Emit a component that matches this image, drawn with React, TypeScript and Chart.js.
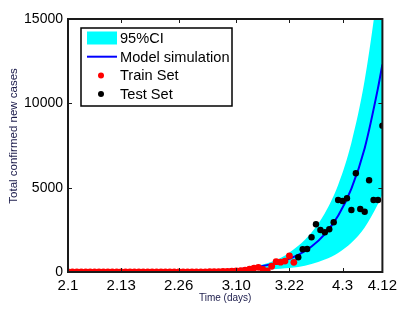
import React, { useEffect, useRef } from 'react';
import { Chart, registerables } from 'chart.js';
Chart.register(...registerables);

// x axis: days since 2.1 (Feb 1)
const xTickDays = [0, 12, 25, 38, 50, 62, 71];
const xTickLabels = ['2.1', '2.13', '2.26', '3.10', '3.22', '4.3', '4.12'];
const yTicks = [0, 5000, 10000, 15000];

const trainStartDay = 0;
const trainValues = [
  0, 0, 0, 0, 0, 0, 0, 0, 0, 0,
  0, 0, 0, 0, 0, 0, 0, 0, 0, 0,
  0, 0, 2, 2, 3, 4, 5, 6, 8, 9,
  10, 12, 15, 20, 25, 30, 40, 50, 65, 85,
  110, 170, 230, 280, 160, 60, 340, 610, 580, 650, 950, 575,
];

const testStartDay = 52;
const testValues = [
  872, 1346, 1364, 2058, 2829, 2490, 2354, 2532, 2947, 4270,
  4210, 4370, 3677, 5853, 3736, 3576, 5438, 4270, 4270, 8676,
];

const modelDays = [0, 10, 20, 30, 35, 40, 44, 48, 52, 55, 58, 61, 64, 67, 70, 71];
const modelValues = [1, 4, 15, 56, 109, 210, 355, 600, 1016, 1511, 2243, 3332, 4946, 7344, 10900, 12300];

const ciDays = [0, 30, 35, 40, 44, 48, 52, 55, 58, 61, 64, 67, 70, 71];
const ciUpper = [1, 57, 118, 245, 440, 830, 1550, 2340, 3480, 5160, 7670, 11380, 16900, 19300];
const ciLower = [1, 55, 95, 130, 150, 200, 290, 470, 740, 1130, 1730, 2640, 4030, 4600];

const FONT = "'Liberation Sans', Arial, Helvetica, sans-serif";
const TITLE_COLOR = '#1a1a4a';

const framePlugin = {
  id: 'frameTicks',
  afterDatasetsDraw(chart: any) {
    const { ctx, chartArea, scales } = chart;
    const { left, right, top, bottom } = chartArea;
    ctx.save();
    ctx.strokeStyle = '#1a1a1a';
    ctx.lineWidth = 1;
    const tl = 4;
    ctx.beginPath();
    scales.x.ticks.forEach((t: any) => {
      const px = Math.round(scales.x.getPixelForValue(t.value)) + 0.5;
      ctx.moveTo(px, bottom); ctx.lineTo(px, bottom - tl);
      ctx.moveTo(px, top); ctx.lineTo(px, top + tl);
    });
    scales.y.ticks.forEach((t: any) => {
      const py = Math.round(scales.y.getPixelForValue(t.value)) + 0.5;
      ctx.moveTo(left, py); ctx.lineTo(left + tl, py);
      ctx.moveTo(right, py); ctx.lineTo(right - tl, py);
    });
    ctx.stroke();
    ctx.lineWidth = 2;
    ctx.strokeRect(left, top, right - left, bottom - top);
    ctx.restore();
  },
};

const legendPlugin = {
  id: 'boxLegend',
  afterDraw(chart: any) {
    const { ctx, chartArea } = chart;
    const x0 = chartArea.left + 13;
    const y0 = chartArea.top + 9;
    const w = 151;
    const h = 78;
    const items = chart.data.datasets.filter((d: any) => d.label);
    ctx.save();
    ctx.fillStyle = '#ffffff';
    ctx.fillRect(x0, y0, w, h);
    ctx.lineWidth = 1.5;
    ctx.strokeStyle = '#000000';
    ctx.strokeRect(x0, y0, w, h);
    ctx.font = `14.6px ${FONT}`;
    ctx.textBaseline = 'middle';
    ctx.textAlign = 'left';
    items.forEach((d: any, i: number) => {
      const cy = y0 + 10 + i * 18.7;
      if (d.fill) {
        ctx.fillStyle = d.backgroundColor;
        ctx.fillRect(x0 + 6, cy - 6.5, 30, 13);
      } else if (d.showLine !== false) {
        ctx.strokeStyle = d.borderColor;
        ctx.lineWidth = 2;
        ctx.beginPath();
        ctx.moveTo(x0 + 6, cy);
        ctx.lineTo(x0 + 36, cy);
        ctx.stroke();
      } else {
        ctx.fillStyle = d.pointBackgroundColor;
        ctx.beginPath();
        ctx.arc(x0 + 20, cy, 3, 0, Math.PI * 2);
        ctx.fill();
      }
      ctx.fillStyle = '#000000';
      ctx.fillText(d.label, x0 + 39, cy + 1);
    });
    ctx.restore();
  },
};

export default function App() {
  const ref = useRef<HTMLCanvasElement | null>(null);
  useEffect(() => {
    if (!ref.current) return;
    const upper = ciDays.map((d, i) => ({ x: d, y: ciUpper[i] }));
    const lower = ciDays.map((d, i) => ({ x: d, y: ciLower[i] }));
    const model = modelDays.map((d, i) => ({ x: d, y: modelValues[i] }));
    const train = trainValues.map((v, i) => ({ x: trainStartDay + i, y: v }));
    const test = testValues.map((v, i) => ({ x: testStartDay + i, y: v }));
    const chart = new Chart(ref.current, {
      type: 'line',
      data: {
        datasets: [
          {
            label: '95%CI', data: upper, fill: '+1', backgroundColor: '#00ffff',
            borderWidth: 0, pointRadius: 0, cubicInterpolationMode: 'monotone', order: 3,
          } as any,
          {
            label: '', data: lower, fill: false, backgroundColor: '#00ffff',
            borderWidth: 0, pointRadius: 0, cubicInterpolationMode: 'monotone', order: 4,
          } as any,
          {
            label: 'Model simulation', data: model, fill: false, borderColor: '#0000ff',
            borderWidth: 2, pointRadius: 0, cubicInterpolationMode: 'monotone', order: 2,
          } as any,
          {
            label: 'Train Set', data: train, showLine: false, pointRadius: 3.4,
            pointBackgroundColor: '#ff0000', pointBorderWidth: 0, borderColor: '#ff0000', order: 1,
          } as any,
          {
            label: 'Test Set', data: test, showLine: false, pointRadius: 3.2,
            pointBackgroundColor: '#000000', pointBorderWidth: 0, borderColor: '#000000', order: 0,
          } as any,
        ],
      },
      options: {
        animation: false,
        responsive: true,
        maintainAspectRatio: false,
        layout: { padding: { top: 19, right: 19, left: 0, bottom: 0 } },
        plugins: { legend: { display: false }, tooltip: { enabled: false } },
        scales: {
          x: {
            type: 'linear', min: 0, max: 71,
            grid: { display: false, drawTicks: false },
            border: { display: false },
            afterBuildTicks: (s: any) => { s.ticks = xTickDays.map((v) => ({ value: v })); },
            afterFit: (s: any) => { s.height = 37; },
            ticks: {
              autoSkip: false, maxRotation: 0, padding: 5, color: '#000',
              font: { size: 15, family: FONT },
              callback: (v: any) => { const i = xTickDays.indexOf(Number(v)); return i >= 0 ? xTickLabels[i] : ''; },
            },
            title: { display: true, text: 'Time (days)', color: TITLE_COLOR, font: { size: 10, family: FONT }, padding: { top: 0, bottom: 4.5 } },
          },
          y: {
            type: 'linear', min: 0, max: 15000,
            grid: { display: false, drawTicks: false },
            border: { display: false },
            afterBuildTicks: (s: any) => { s.ticks = yTicks.map((v) => ({ value: v })); },
            afterFit: (s: any) => { s.width = 68; },
            ticks: { padding: 5, color: '#000', font: { size: 14, family: FONT }, callback: (v: any) => String(v) },
            title: { display: true, text: '      Total confirmed new cases', color: TITLE_COLOR, font: { size: 11.5, family: FONT }, padding: { top: 7, bottom: 0 } },
          },
        },
      } as any,
      plugins: [framePlugin, legendPlugin],
    });
    return () => chart.destroy();
  }, []);
  return (
    <div style={{ position: 'fixed', left: 0, top: 0, width: 402, height: 309, background: '#fff' }}>
      <canvas ref={ref} />
    </div>
  );
}
